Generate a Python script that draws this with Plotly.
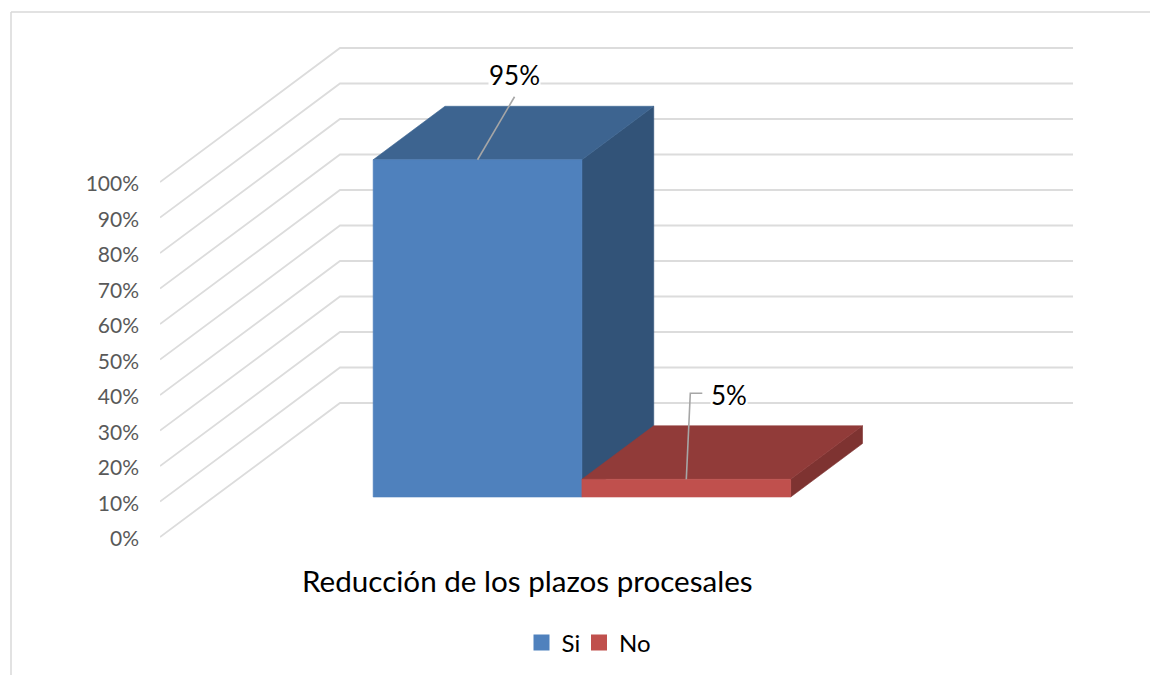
import plotly.graph_objects as go

# ---- data ----
categories = ["Si", "No"]
values = [95, 5]
axis_ticks = [0, 10, 20, 30, 40, 50, 60, 70, 80, 90, 100]
tick_labels = ["0%", "10%", "20%", "30%", "40%", "50%", "60%", "70%", "80%", "90%", "100%"]
value_labels = ["95%", "5%"]
group_title = "Reducción de los plazos procesales"

# ---- oblique projection of the 3-D box scene onto a normal x/y plot ----
W, H = 1150, 675
PX_X = 733.0      # pixels per unit of category width
PX_Y = 3.55       # pixels per percent
LEFT, ZERO = 160, 537
DX = 180 / PX_X   # shift of the back wall, in x units
DY = 134 / PX_Y   # shift of the back wall, in y units
BAR_START, BAR_W = 0.2175, 0.2848
D_FRONT, D_BACK = 0.2985, 0.6975

def proj(x, v, d):
    return x + d * DX, v + d * DY

def poly(points):
    p = [proj(*q) for q in points]
    p.append(p[0])
    return [a for a, _ in p], [b for _, b in p]

GRID = "#DCDCDC"
FRONT = ["#4F81BD", "#C0504D"]
TOP = ["#3D6490", "#913B39"]
SIDE = ["#325378", "#7E3331"]

fig = go.Figure()

# gridlines
for t in axis_ticks:
    xs, ys = zip(proj(0, t, 0), proj(0, t, 1), proj(1, t, 1))
    fig.add_trace(go.Scatter(x=xs, y=ys, mode="lines", showlegend=False, hoverinfo="skip",
                             line=dict(color=GRID, width=1.8)))

def face(pts, color):
    xs, ys = poly(pts)
    fig.add_trace(go.Scatter(x=xs, y=ys, mode="lines", fill="toself", fillcolor=color,
                             showlegend=False, hoverinfo="skip",
                             line=dict(color=color, width=0.6)))

# boxes, left to right: each later box overlaps the side of the one before it
for i, v in enumerate(values):
    x0 = BAR_START + i * BAR_W
    x1 = x0 + BAR_W
    face([(x1, 0, D_FRONT), (x1, 0, D_BACK), (x1, v, D_BACK), (x1, v, D_FRONT)], SIDE[i])
    face([(x0, v, D_FRONT), (x1, v, D_FRONT), (x1, v, D_BACK), (x0, v, D_BACK)], TOP[i])
    face([(x0, 0, D_FRONT), (x1, 0, D_FRONT), (x1, v, D_FRONT), (x0, v, D_FRONT)], FRONT[i])

# leader lines, starting at each front-top edge
def leader(i, offsets):
    x0 = BAR_START + i * BAR_W
    ax, ay = proj(x0 + BAR_W / 2, values[i], D_FRONT)
    xs = [ax + dx / PX_X for dx, _ in offsets]
    ys = [ay + dy / PX_Y for _, dy in offsets]
    fig.add_trace(go.Scatter(x=xs, y=ys, mode="lines", showlegend=False, hoverinfo="skip",
                             line=dict(color="#A6A6A6", width=1.6)))

leader(0, [(0, 0), (37, 63)])
leader(1, [(0, 0), (4, 86), (16, 86)])

# legend entries: one legend per entry so the pair can sit as close as in the original
legend_ids = ["legend", "legend2"]
for name, col, lg in zip(categories, FRONT, legend_ids):
    fig.add_trace(go.Scatter(x=[None], y=[None], mode="markers", name=name, legend=lg,
                             marker=dict(symbol="square", size=16, color=col)))

FONT = "Lato, Carlito, sans-serif"
def px_note(text, px, py, size, color="#000000", bg=None, anchor="center"):
    fig.add_annotation(text=text, xref="paper", yref="paper", x=px / W, y=1 - py / H,
                       showarrow=False, xanchor=anchor, yanchor="middle",
                       font=dict(family=FONT, size=size, color=color), bgcolor=bg, borderpad=0)

px_note(value_labels[0], 514.5, 75, 26, bg="#FFFFFF")
px_note(value_labels[1], 729, 394.5, 26, bg="#FFFFFF")
px_note(group_title, 527, 580, 29.6)

# chart frame (only the top and left edges fall inside the picture)
for x0, y0, x1, y1 in [(11, 12, W, 12), (11, 12, 11, H)]:
    fig.add_shape(type="line", xref="paper", yref="paper",
                  x0=x0 / W, y0=1 - y0 / H, x1=x1 / W, y1=1 - y1 / H,
                  line=dict(color="#D9D9D9", width=1.5))

def legend_at(px):
    return dict(orientation="h", x=px / W, xanchor="left", y=1 - 643 / H, yanchor="middle",
                font=dict(family=FONT, size=24, color="#000000"), itemclick=False,
                itemdoubleclick=False, bgcolor="rgba(0,0,0,0)")

fig.update_layout(
    width=W, height=H, margin=dict(l=0, r=0, t=0, b=0, pad=0),
    paper_bgcolor="#FFFFFF", plot_bgcolor="#FFFFFF", hovermode=False,
    xaxis=dict(domain=[LEFT / W, 1], range=[0, (W - LEFT) / PX_X], visible=False, fixedrange=True),
    yaxis=dict(domain=[0, 1], range=[(ZERO - H) / PX_Y, ZERO / PX_Y], showgrid=False, zeroline=False,
               showline=False, tickmode="array", tickvals=axis_ticks, ticktext=tick_labels,
               ticks="", ticklabelstandoff=20, ticklabelshift=2,
               tickfont=dict(family=FONT, size=21, color="#595959"), fixedrange=True),
    showlegend=True,
    legend=legend_at(521.5),
    legend2=legend_at(579),
)

fig.write_html("out.html", config={"displayModeBar": False},
               post_script="document.body.style.margin='0';document.body.style.overflow='hidden';")
